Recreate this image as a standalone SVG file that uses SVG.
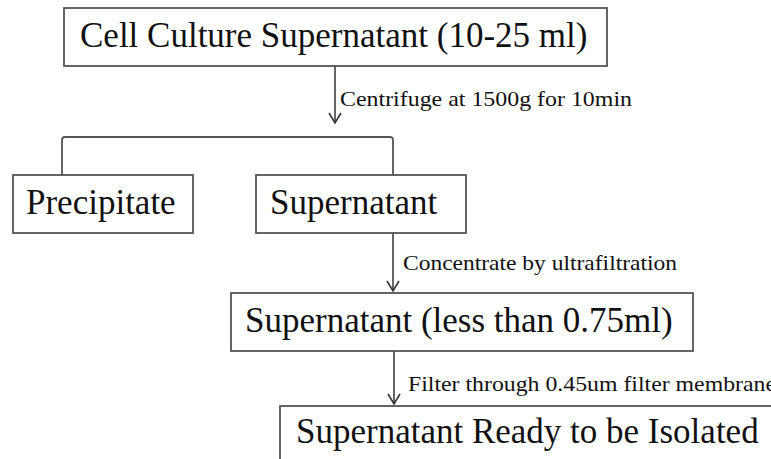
<svg xmlns="http://www.w3.org/2000/svg" width="771" height="459" viewBox="0 0 771 459">
<style>
.box{fill:#fff;stroke:#555;stroke-width:1.8}
.t{font-family:"Liberation Serif","Times New Roman",serif;font-size:35px;fill:#111}
.lbl{font-family:"Liberation Serif","Times New Roman",serif;font-size:22px;fill:#111}
.c{fill:none;stroke:#555;stroke-width:1.8;stroke-linejoin:round}
</style>
<defs>
<marker id="arr" markerUnits="userSpaceOnUse" markerWidth="14" markerHeight="16" refX="11" refY="7" orient="auto">
<path d="M1,1 L11,7 L1,13" fill="none" stroke="#333" stroke-width="1.6"/>
</marker>
</defs>
<rect width="771" height="459" fill="#fff"/>
<g id="connectors">
<line class="c" x1="335" y1="66" x2="335" y2="123" marker-end="url(#arr)"/>
<path class="c" d="M62,175 V140 Q62,137 65,137 H390 Q393,137 393,140 V175"/>
<line class="c" x1="393" y1="233" x2="393" y2="291" marker-end="url(#arr)"/>
<line class="c" x1="394" y1="351" x2="394" y2="404" marker-end="url(#arr)"/>
<text class="lbl" x="340" y="106" textLength="292" lengthAdjust="spacingAndGlyphs">Centrifuge at 1500g for 10min</text>
<text class="lbl" x="403" y="270" textLength="274" lengthAdjust="spacingAndGlyphs">Concentrate by ultrafiltration</text>
<text class="lbl" x="408" y="391" textLength="368" lengthAdjust="spacingAndGlyphs">Filter through 0.45um filter membrane</text>
</g>
<g id="n1">
<rect class="box" x="64" y="8" width="543" height="58"/>
<text class="t" x="80" y="47">Cell Culture Supernatant (10-25 ml)</text>
</g>
<g id="n2">
<rect class="box" x="13" y="175" width="180" height="58"/>
<text class="t" x="26" y="214">Precipitate</text>
</g>
<g id="n3">
<rect class="box" x="256" y="175" width="210" height="58"/>
<text class="t" x="270" y="214">Supernatant</text>
</g>
<g id="n4">
<rect class="box" x="231" y="293" width="462" height="58"/>
<text class="t" x="245" y="332">Supernatant (less than 0.75ml)</text>
</g>
<g id="n5">
<rect class="box" x="280" y="406" width="520" height="70"/>
<text class="t" x="296" y="443">Supernatant Ready to be Isolated</text>
</g>
</svg>
